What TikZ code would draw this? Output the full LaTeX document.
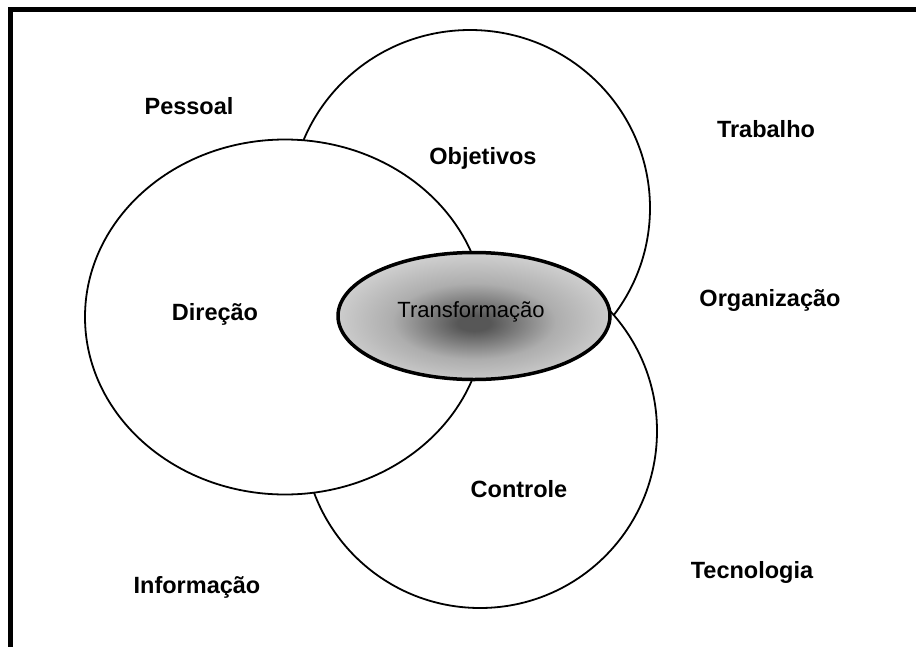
\documentclass[tikz,border=0pt]{standalone}
\usepackage{fontspec}
\setmainfont{Liberation Sans}
\usetikzlibrary{shapes.geometric}
\definecolor{shIn}{rgb}{0.34,0.34,0.34}
\definecolor{shMid}{rgb}{0.68,0.68,0.68}
\definecolor{shOut}{rgb}{0.86,0.86,0.86}
\pgfdeclareradialshading{tshade}{\pgfpoint{0bp}{-3bp}}{color(0bp)=(shIn); color(3bp)=(shIn); color(15bp)=(shMid); color(30bp)=(shOut); color(50bp)=(shOut)}
\begin{document}
\begin{tikzpicture}[x=1pt,y=-1pt,
  setbox/.style={ellipse, draw=black, fill=white, line width=1.8pt, inner sep=0pt},
  lbl/.style={font=\bfseries\fontsize{23.5}{28}\selectfont, inner sep=0pt},
  core/.style={ellipse, draw=black, line width=3.5pt, shading=tshade, inner sep=0pt}]
\useasboundingbox (0,0) rectangle (916,646);
\clip (0,0) rectangle (916,646);
\fill[white] (0,0) rectangle (916,646);
% frame
\coordinate (fb) at (10.3,700);
\coordinate (fc) at (10.3,9.8);
\coordinate (fr) at (960,9.8);
\draw[line width=5pt] (fb) -- (fc) -- (fr);
% sets
\node[setbox, minimum width=360pt, minimum height=356pt] (top) at (470,208) {};
\node[setbox, minimum width=354pt, minimum height=354pt] (bottom) at (480,431) {};
\node[setbox, minimum width=400pt, minimum height=355pt] (left) at (285,317) {};
\node[core, minimum width=272pt, minimum height=127pt] (trans) at (474,316) {};
\node[inner sep=0pt, font=\fontsize{22}{26}\selectfont, text=black] (transtxt) at (471,312) {Transformação};
% labels
\node[lbl] (pessoal) at (189,106) {Pessoal};
\node[lbl] (objetivos) at (483,158) {Objetivos};
\node[lbl] (trabalho) at (766,129) {Trabalho};
\node[lbl] (direcao) at (215,314) {Direção};
\node[lbl] (organizacao) at (770,300) {Organização};
\node[lbl] (controle) at (519,489) {Controle};
\node[lbl] (tecnologia) at (752,572) {Tecnologia};
\node[lbl] (informacao) at (197,587) {Informação};
\end{tikzpicture}
\end{document}
